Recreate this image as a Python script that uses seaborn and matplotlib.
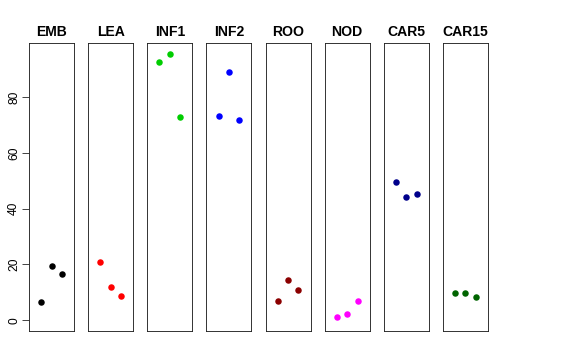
import pandas as pd
import seaborn as sns
import matplotlib
matplotlib.use("Agg")
import matplotlib.pyplot as plt

# panel names and colours
groups = ["EMB", "LEA", "INF1", "INF2", "ROO", "NOD", "CAR5", "CAR15"]
colors = ["#000000", "#FF0000", "#00CD00", "#0000FF",
          "#8B0000", "#FF00FF", "#00008B", "#006400"]

# three replicates per group
rep = [1, 2, 3]
emb = [6.6, 19.4, 16.7]
lea = [20.9, 12.1, 8.6]
inf1 = [92.6, 95.5, 72.9]
inf2 = [73.0, 88.9, 71.8]
roo = [6.9, 14.5, 10.9]
nod = [1.2, 2.3, 6.9]
car5 = [49.7, 44.2, 45.2]
car15 = [9.8, 9.9, 8.5]

values = [emb, lea, inf1, inf2, roo, nod, car5, car15]
df = pd.DataFrame({
    "group": [g for g in groups for _ in rep],
    "rep": rep * len(groups),
    "value": [v for vals in values for v in vals],
})

sns.set_style("white")
plt.rcParams["font.family"] = ["Liberation Sans", "DejaVu Sans"]
plt.rcParams["text.color"] = "black"
plt.rcParams["ytick.labelcolor"] = "black"

fig = plt.figure(figsize=(8, 5), dpi=72)
W, H = 576, 360
ymax = df["value"].max()
pad = 0.04 * ymax

for i, (g, c) in enumerate(zip(groups, colors)):
    left = 29 + i * 59.14
    ax = fig.add_axes([left / W, (H - 331) / H, 45 / W, 288 / H])
    sub = df[df.group == g]
    sns.scatterplot(data=sub, x="rep", y="value", color=c, s=42,
                    linewidth=0, ax=ax)
    ax.set_xlim(-0.16, 4.16)
    ax.set_ylim(-pad, ymax + pad)
    ax.set_xticks([])
    ax.set_xlabel("")
    ax.set_ylabel("")
    ax.set_title(g, fontsize=14, fontweight="bold", pad=7, color="black")
    for sp in ax.spines.values():
        sp.set_visible(True)
        sp.set_color("#222222")
        sp.set_linewidth(0.9)
    if i == 0:
        ax.set_yticks([0, 20, 40, 60, 80])
        ax.tick_params(axis="y", left=True, length=7, width=0.9,
                       color="#333333", labelsize=12, pad=2,
                       labelcolor="black")
        for t in ax.get_yticklabels():
            t.set_rotation(90)
            t.set_va("center")
    else:
        ax.set_yticks([])

fig.savefig("out.png", dpi=72)
